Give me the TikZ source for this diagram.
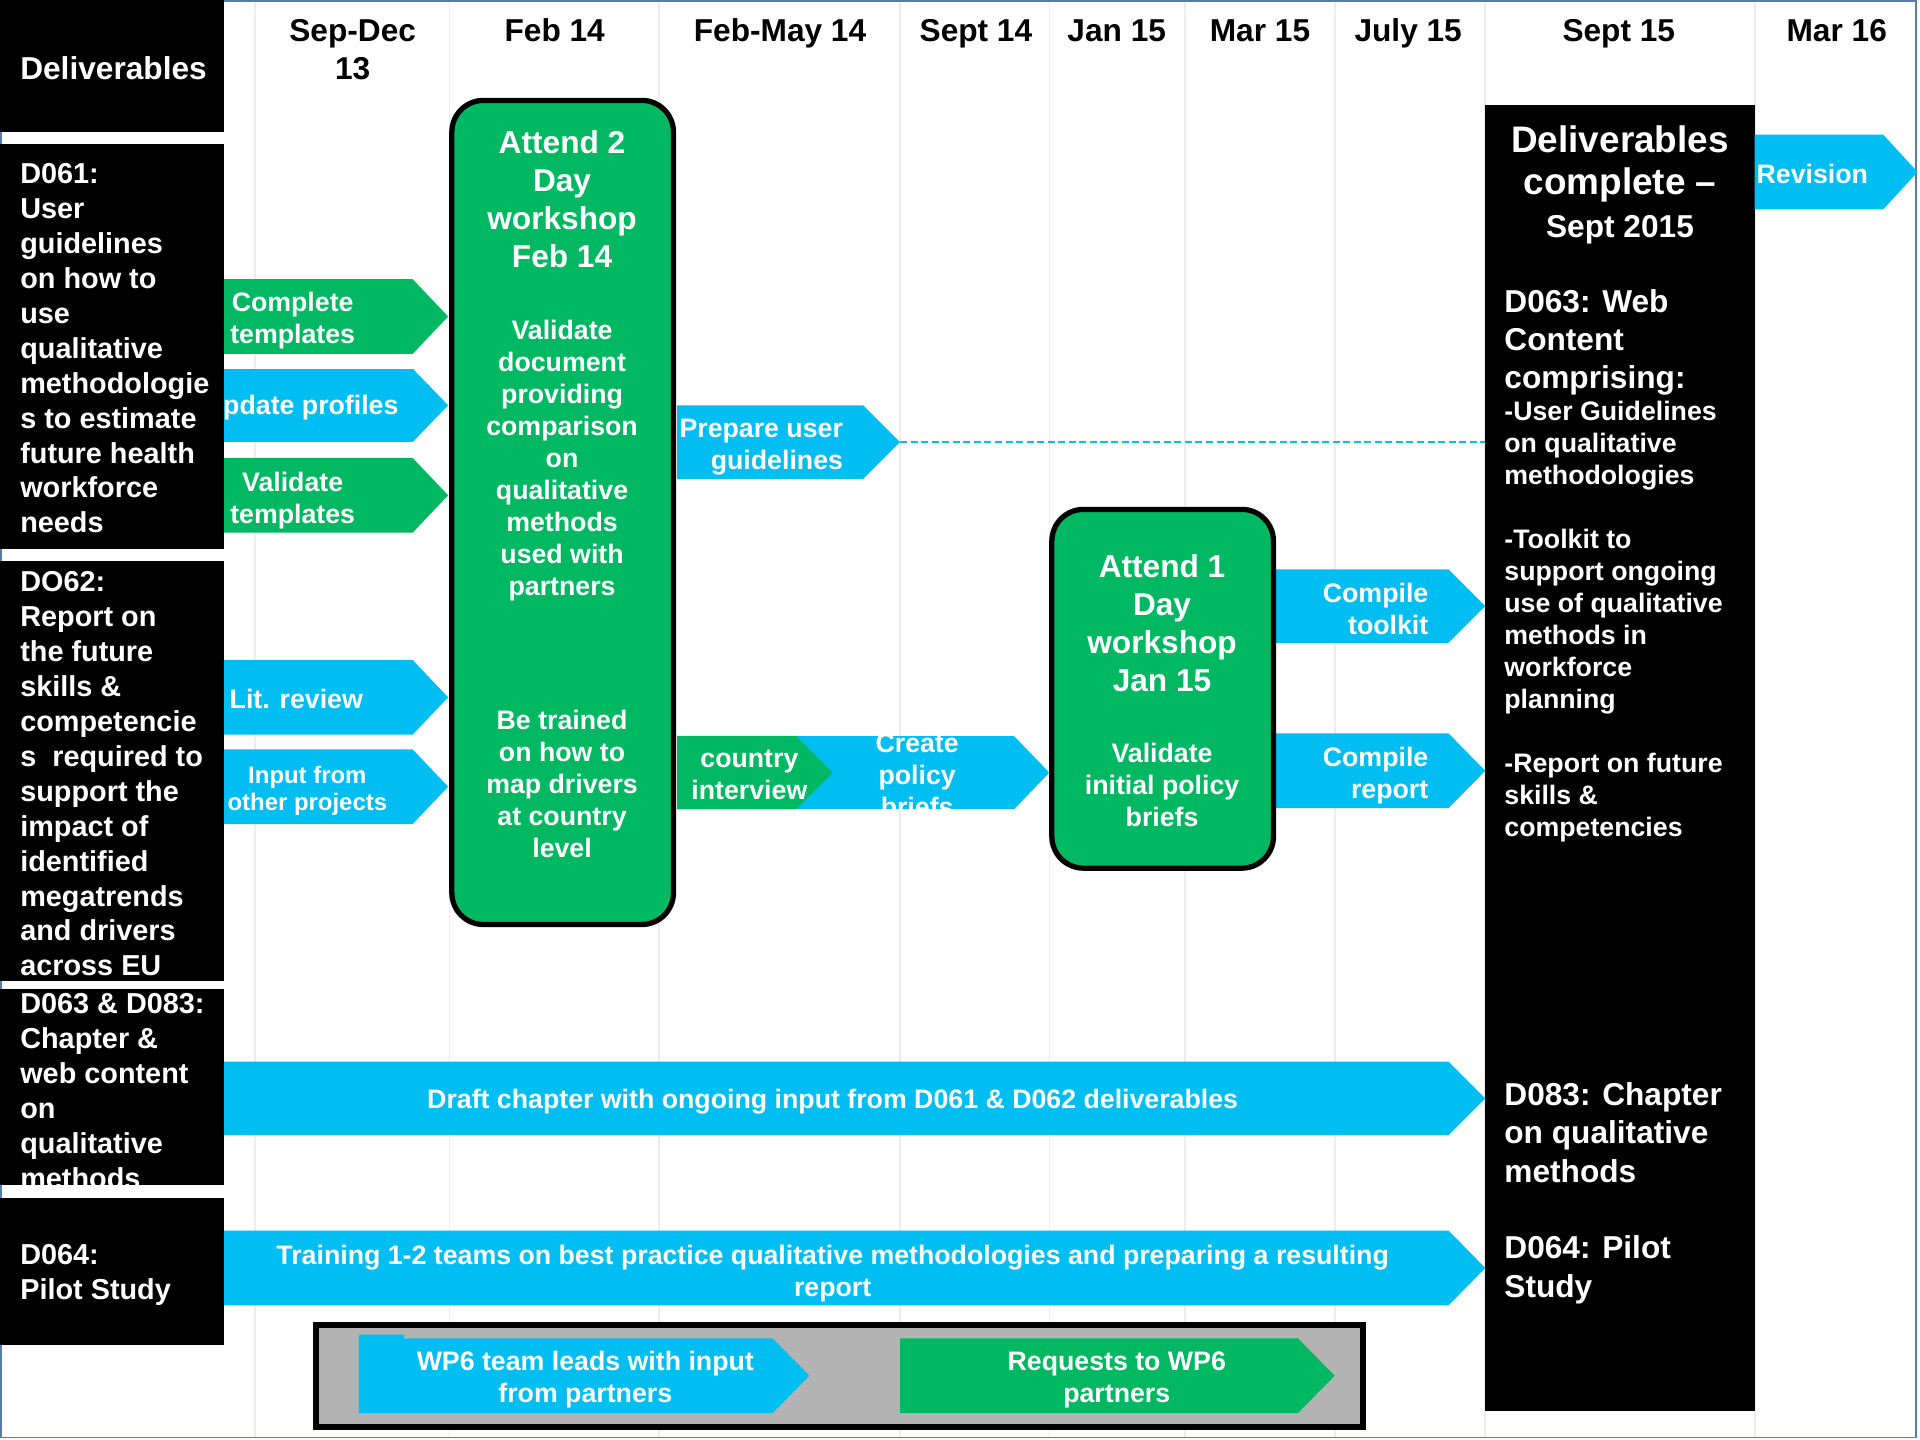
\documentclass[tikz,border=0pt]{standalone}
\usepackage{fontspec}
\setmainfont{Liberation Sans}
\definecolor{grn}{HTML}{00B862}
\definecolor{cyn}{HTML}{00BEF2}
\definecolor{legendgrey}{HTML}{B3B3B3}
\definecolor{gridgrey}{HTML}{EDEDED}
\definecolor{frameblue}{HTML}{5B7BA8}
\newcommand\fsz[2]{\fontsize{#1}{#2}\selectfont\bfseries}
\begin{document}
\begin{tikzpicture}[x=0.0122449cm,y=-0.0122449cm]
  \tikzstyle{every node}=[inner sep=0pt,text=white]
  \tikzstyle{colhead}=[text=black,font=\fsz{9}{10.8},align=center]
  \tikzstyle{deliv}=[font=\fsz{8.2}{9.93},align=left,anchor=west]
  \tikzstyle{arrowtext}=[font=\fsz{7.6}{9.1},align=center]
  \tikzstyle{wstitle}=[font=\fsz{9}{10.8},align=center]
  \tikzstyle{donetext}=[font=\fsz{9}{11},align=left,anchor=west]
  \tikzstyle{workshop}=[fill=grn,draw=black,line width=1.5pt,rounded corners=9pt]
  \useasboundingbox (0,0) rectangle (1568,1176);
  \foreach \x in {208,367,538,735,857,968,1090,1213,1433}
    \draw[gridgrey,line width=0.5pt] (\x,0) -- (\x,1174);
  \draw[frameblue,line width=0.5pt] (1,1) rectangle (1565,1174);
  \fill[black] (0,0) rectangle (183,108);
  \fill[black] (0,118) rectangle (183,448);
  \fill[black] (0,458) rectangle (183,801);
  \fill[black] (0,978) rectangle (183,1098);
  \fill[black] (1213,86) rectangle (1433,1152);
  \fill[grn] (183,228) -- (337,228) -- (366,258.5) -- (337,289) -- (183,289) -- cycle;
  \fill[grn] (183,374) -- (337,374) -- (366,404.5) -- (337,435) -- (183,435) -- cycle;
  \fill[cyn] (183,539) -- (337,539) -- (366,569.5) -- (337,600) -- (183,600) -- cycle;
  \fill[cyn] (183,612) -- (337,612) -- (366,642.5) -- (337,673) -- (183,673) -- cycle;
  \fill[cyn] (553,331) -- (705,331) -- (735,361) -- (705,391) -- (553,391) -- cycle;
  \fill[cyn] (1042,465) -- (1183,465) -- (1213,495) -- (1183,525) -- (1042,525) -- cycle;
  \fill[cyn] (1042,599) -- (1183,599) -- (1213,629.5) -- (1183,660) -- (1042,660) -- cycle;
  \fill[cyn] (1433,110) -- (1538,110) -- (1566,140.5) -- (1538,171) -- (1433,171) -- cycle;
  \fill[cyn] (183,867) -- (1183,867) -- (1213,897) -- (1183,927) -- (183,927) -- cycle;
  \fill[cyn] (183,1005) -- (1183,1005) -- (1213,1035.5) -- (1183,1066) -- (183,1066) -- cycle;
  \begin{scope}
    \clip (183,301) -- (337,301) -- (366,331) -- (337,361) -- (183,361) -- cycle;
    \fill[cyn] (183,301) rectangle (366,361);
    \node[arrowtext,anchor=east] (profiles) at (326,333) {Update profiles};
  \end{scope}
  \begin{scope}
    \clip (650,601) -- (828,601) -- (857,631) -- (828,661) -- (650,661) -- cycle;
    \fill[cyn] (650,601) rectangle (857,661);
    \node[arrowtext] (briefs) at (749,633) {Create\\policy\\briefs};
  \end{scope}
  \fill[grn] (553,601) -- (650,601) -- (680,631) -- (650,661) -- (553,661) -- cycle;
  \begin{scope}
    \clip (0,808) rectangle (183,968);
    \fill[black] (0,808) rectangle (183,968);
    \node[deliv] (d063) at (16,891) {D063 \& D083:\\Chapter \&\\web content\\on\\qualitative\\methods};
  \end{scope}
  \draw[workshop] (369,82) rectangle (550,755);
  \draw[workshop] (859,416) rectangle (1040,709);
  \filldraw[fill=legendgrey,draw=black,line width=1.7pt] (258,1082) rectangle (1113,1165);
  \fill[cyn] (293,1090) -- (330,1090) -- (330,1093) -- (631,1093) -- (661,1123.5) -- (631,1154) -- (293,1154) -- cycle;
  \fill[grn] (735,1093) -- (1060,1093) -- (1090,1123.5) -- (1060,1154) -- (735,1154) -- cycle;
  \coordinate (preptip) at (735,361);
  \coordinate (donewest) at (1213,361);
  \draw[cyn,line width=0.4pt,dash pattern=on 2pt off 1pt] (preptip) -- (donewest);
  \node[colhead] (sepdec) at (288,40.5) {Sep-Dec\\13};
  \node[colhead,anchor=base] (feb) at (453,34.3) {Feb 14};
  \node[colhead,anchor=base] (febmay) at (637,34.3) {Feb-May 14};
  \node[colhead,anchor=base] (sep14) at (797,34.3) {Sept 14};
  \node[colhead,anchor=base] (jan) at (912,34.3) {Jan 15};
  \node[colhead,anchor=base] (mar15) at (1029,34.3) {Mar 15};
  \node[colhead,anchor=base] (jul) at (1150,34.3) {July 15};
  \node[colhead,anchor=base] (sep15) at (1322,34.3) {Sept 15};
  \node[colhead,anchor=base] (mar16) at (1500,34.3) {Mar 16};
  \node[deliv,font=\fsz{9}{10.8}] (deliv) at (16,56) {Deliverables};
  \node[deliv] (d061) at (16,284.5) {D061:\\User\\guidelines\\on how to\\use\\qualitative\\methodologie\\s to estimate\\future health\\workforce\\needs};
  \node[deliv] (d062) at (16,632) {DO62:\\Report on\\the future\\skills \&\\competencie\\s~ required to\\support the\\impact of\\identified\\megatrends\\and drivers\\across EU};
  \node[deliv] (d064) at (16,1041) {D064:\\Pilot Study};
  \node[arrowtext] (templates) at (239,262) {Complete\\templates};
  \node[arrowtext] (validate) at (239,409) {Validate\\templates};
  \node[arrowtext,anchor=west] (review) at (187,571) {Lit. review};
  \node[arrowtext,font=\fsz{6.8}{7.7}] (input) at (251,646) {Input from\\other projects};
  \node[arrowtext,align=right,anchor=east] (guide) at (689,365) {Prepare user\\guidelines};
  \node[arrowtext] (interview) at (612,633) {country\\interview};
  \node[arrowtext,align=right,anchor=east] (toolkit) at (1167,497) {Compile\\toolkit};
  \node[arrowtext,align=right,anchor=east] (report) at (1167,633) {Compile\\report};
  \node[arrowtext,anchor=west] (revision) at (1434,142) {Revision};
  \node[arrowtext] (draft) at (680,900) {Draft chapter with ongoing input from D061 \& D062 deliverables};
  \node[arrowtext] (training) at (680,1040) {Training 1-2 teams on best practice qualitative methodologies and preparing a resulting\\report};
  \node[arrowtext] (wp6) at (478,1127) {WP6 team leads with input\\from partners};
  \node[arrowtext] (requests) at (912,1127) {Requests to WP6\\partners};
  \node[wstitle] (ws2) at (459,162.5) {Attend 2\\Day\\workshop\\Feb 14};
  \node[arrowtext] (ws2val) at (459,376) {Validate\\document\\providing\\comparison\\on\\qualitative\\methods\\used with\\partners};
  \node[arrowtext] (ws2train) at (459,640) {Be trained\\on how to\\map drivers\\at country\\level};
  \node[wstitle] (ws1) at (949,509) {Attend 1\\Day\\workshop\\Jan 15};
  \node[arrowtext] (ws1val) at (949,641) {Validate\\initial policy\\briefs};
  \node[font=\fsz{10.5}{12},align=center] (donetitle) at (1323,151) {Deliverables\\complete –\\{\fsz{9}{12}Sept 2015}};
  \node[donetext,font=\fsz{9}{10.8}] (web) at (1228,280) {D063: Web\\Content\\comprising:};
  \node[donetext,font=\fsz{7.6}{9.1}] (webitems) at (1228,508) {-User Guidelines\\on qualitative\\methodologies\\[9.1pt]-Toolkit to\\support ongoing\\use of qualitative\\methods in\\workforce\\planning\\[9.1pt]-Report on future\\skills \&\\competencies};
  \node[donetext] (chapter) at (1228,925) {D083: Chapter\\on qualitative\\methods};
  \node[donetext] (pilot) at (1228,1037) {D064: Pilot\\Study};
\end{tikzpicture}
\end{document}
